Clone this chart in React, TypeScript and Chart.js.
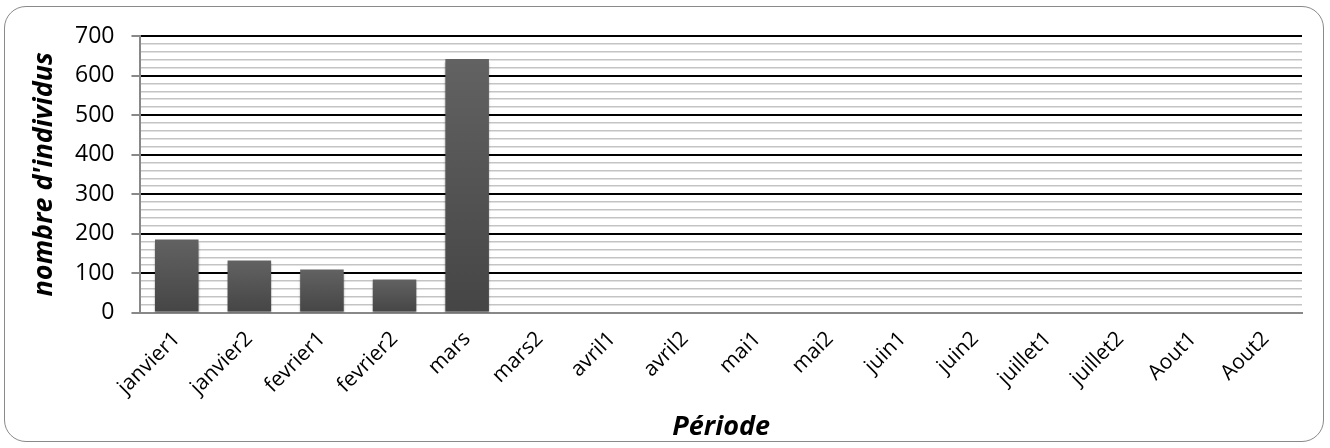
import React, { useEffect, useRef } from "react";
import { Chart, registerables } from "chart.js";

Chart.register(...registerables);

const categories = [
  "janvier1", "janvier2", "fevrier1", "fevrier2", "mars", "mars2",
  "avril1", "avril2", "mai1", "mai2", "juin1", "juin2",
  "juillet1", "juillet2", "Aout1", "Aout2",
];
const individus = [185, 132, 109, 84, 642, 0, 0, 0, 0, 0, 0, 0, 0, 0, 0, 0];
const yMin = 0;
const yMax = 700;
const minorStep = 20;
const majorStep = 100;
const yTitle = "nombre d'individus";
const xTitle = "Période";

const FONT = "'Open Sans', Lato, sans-serif";

export default function App() {
  const ref = useRef<HTMLCanvasElement | null>(null);

  useEffect(() => {
    if (!ref.current) return;
    const shadowPlugin = {
      id: "barShadow",
      beforeDatasetsDraw(chart: any) {
        const ctx = chart.ctx;
        ctx.save();
        ctx.shadowColor = "rgba(0,0,0,0.3)";
        ctx.shadowBlur = 2;
        ctx.shadowOffsetY = 3;
      },
      afterDatasetsDraw(chart: any) {
        chart.ctx.restore();
      },
    };
    const chart = new Chart(ref.current, {
      type: "bar",
      data: {
        labels: categories,
        datasets: [
          {
            data: individus,
            backgroundColor: (c: any) => {
              const ch = c.chart;
              const y = ch.scales?.y;
              if (!y || c.type !== "data") return "#555";
              const top = y.getPixelForValue(c.raw);
              const base = y.getPixelForValue(0);
              if (!isFinite(top) || !isFinite(base) || top === base) return "#555";
              const g = ch.ctx.createLinearGradient(0, top, 0, base);
              g.addColorStop(0, "#626262");
              g.addColorStop(1, "#454545");
              return g;
            },
            borderWidth: 0,
            barPercentage: 0.6,
            categoryPercentage: 1,
          },
        ],
      },
      plugins: [shadowPlugin],
      options: {
        animation: false,
        responsive: false,
        layout: { padding: { left: 31, right: 28, top: 36, bottom: 4 } },
        plugins: { legend: { display: false }, tooltip: { enabled: false } },
        scales: {
          x: {
            grid: { display: false },
            border: { display: true, color: "#888", width: 2 },
            ticks: {
              color: "#000",
              font: { family: FONT, size: 21 },
              maxRotation: 45,
              minRotation: 45,
              padding: 6,
            },
            title: {
              display: true,
              text: xTitle,
              color: "#000",
              font: { family: FONT, size: 27, weight: "bold", style: "italic" },
              padding: { top: 6, bottom: 0 },
            },
          },
          y: {
            min: yMin,
            max: yMax,
            border: { display: true, color: "#888", width: 2 },
            grid: {
              color: (c: any) =>
                c.tick.value === 0 ? "#888" : c.tick.value % majorStep === 0 ? "#000" : "#c4c4c4",
              lineWidth: (c: any) => (c.tick.value % majorStep === 0 ? 2 : 1.5),
              tickColor: (c: any) => (c.tick.value % majorStep === 0 ? "#888" : "rgba(0,0,0,0)"),
              tickLength: 9,
            },
            ticks: {
              stepSize: minorStep,
              color: "#000",
              font: { family: FONT, size: 23 },
              padding: 17,
              autoSkip: false,
              callback: (v: any) => (Number(v) % majorStep === 0 ? String(v) : ""),
            },
            title: {
              display: true,
              text: yTitle,
              color: "#000",
              font: { family: FONT, size: 27, weight: "bold", style: "italic", lineHeight: 1 },
              padding: { top: 0, bottom: 0 },
            },
          },
        },
      },
    });
    return () => chart.destroy();
  }, []);

  return (
    <div style={{ position: "absolute", left: 0, top: 0, width: 1330, height: 448, background: "#fff" }}>
      <div
        style={{
          position: "absolute",
          left: 4,
          top: 6,
          width: 1320,
          height: 436,
          border: "1.5px solid #8a8a8a",
          borderRadius: 22,
          boxSizing: "border-box",
        }}
      />
      <canvas ref={ref} width={1330} height={448} style={{ position: "absolute", left: 0, top: 0 }} />
    </div>
  );
}
